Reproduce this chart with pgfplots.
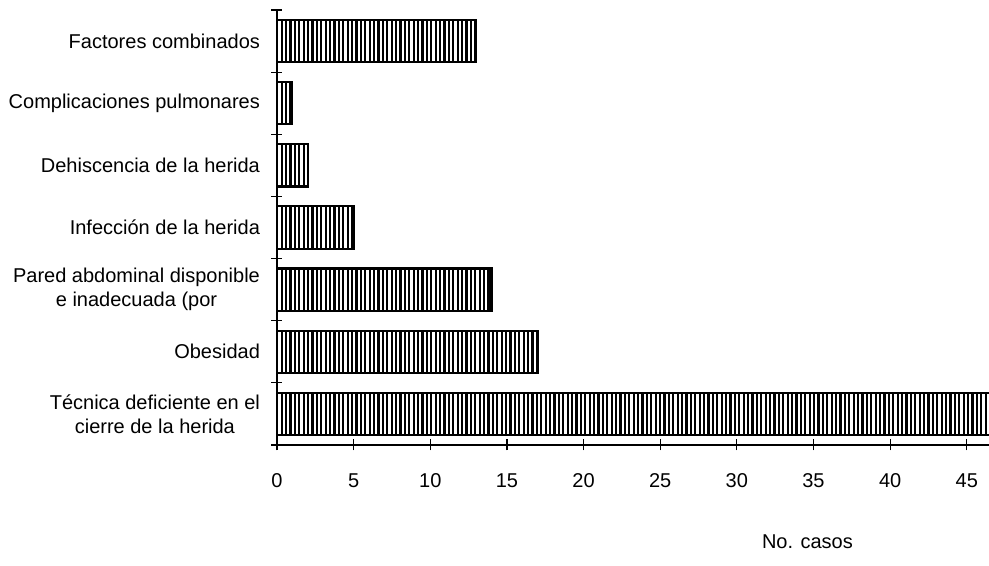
\documentclass[border=0pt]{standalone}
\usepackage{fontspec}
\setmainfont{Liberation Sans}
\usepackage{pgfplots}
\pgfplotsset{compat=1.18}
\usetikzlibrary{patterns.meta}

\begin{document}
\begin{tikzpicture}
\path[use as bounding box] (-138.5pt,-60.5pt) rectangle (356pt,222.5pt);
\begin{axis}[
    at={(0,0)}, anchor=south west,
    scale only axis,
    width=356pt, height=217.5pt,
    xbar,
    xmin=0, xmax=46.45,
    ymin=-0.5, ymax=6.5,
    axis x line*=bottom,
    axis y line*=left,
    axis line style={line width=0.8pt},
    xtick={0,5,...,45},
    tick align=center,
    major tick length=5.5pt,
    tick style={black, line width=0.6pt},
    xticklabel style={yshift=-8pt},
    /pgf/number format/assume math mode=true,
    ytick={-0.5,0.5,...,6.5},
    yticklabels={},
    extra y ticks={0,1,2,3,4,5,6},
    extra y tick labels={{Técnica deficiente en el\\cierre de la herida},
        Obesidad,
        {Pared abdominal disponible\\e inadecuada (por},
        Infección de la herida,
        Dehiscencia de la herida,
        Complicaciones pulmonares,
        Factores combinados},
    extra y tick style={major tick length=0pt,
        yticklabel style={align=center, xshift=-5pt}},
    xlabel={No. casos},
    xlabel style={at={(axis description cs:0.745,0)}, anchor=center, yshift=-48.5pt},
    font=\fontsize{10}{12}\selectfont,
]
\addplot[draw=black, line width=1.1pt, bar width=0.68,
    pattern={Lines[angle=90,distance=2.2pt,line width=1.1pt]}]
    coordinates {(47,0) (17,1) (14,2) (5,3) (2,4) (1,5) (13,6)};
\end{axis}
\end{tikzpicture}
\end{document}
